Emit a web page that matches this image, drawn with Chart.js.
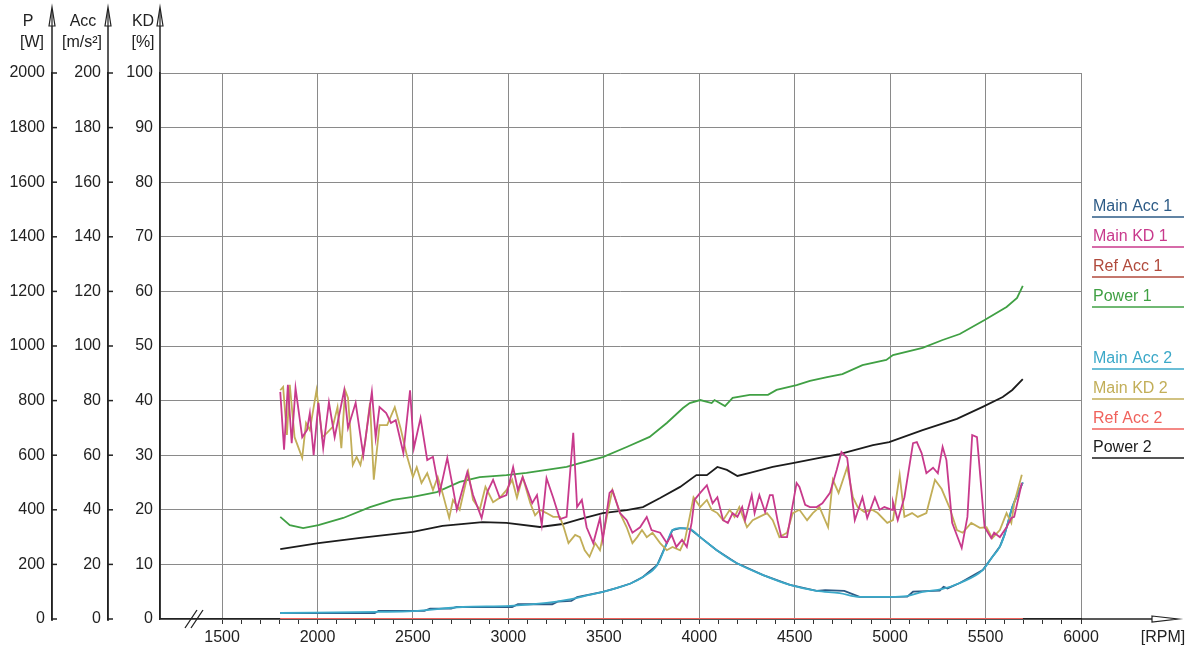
<!DOCTYPE html>
<html lang="en">
<head>
<meta charset="UTF-8">
<title>RPM sweep</title>
<script src="https://cdn.jsdelivr.net/npm/chart.js"></script>
<style>
  body { margin: 0; background: #fff; }
  canvas { display: block; }
</style>
</head>
<body>
<canvas id="grafico" width="1195" height="648"></canvas>
<script>
// names shown in the legend, in order
const seriesNames = ['Main Acc 1', 'Main KD 1', 'Ref Acc 1', 'Power 1',
                     'Main Acc 2', 'Main KD 2', 'Ref Acc 2', 'Power 2'];
const rpmLabels = [1500, 2000, 2500, 3000, 3500, 4000, 4500, 5000, 5500, 6000];

// Main KD 1 [%]
const kd1Rpm = [1805,1825,1845,1865,1885,1920,1945,1960,1980,2005,
                2030,2060,2090,2140,2160,2200,2240,2285,2305,2325,
                2360,2385,2410,2450,2485,2505,2540,2575,2605,2640,
                2680,2705,2730,2785,2815,2860,2890,2920,2955,2990,
                3025,3050,3075,3125,3150,3175,3200,3235,3270,3305,
                3340,3360,3385,3410,3445,3480,3495,3530,3545,3585,
                3620,3650,3690,3725,3750,3795,3830,3855,3880,3910,
                3935,3960,3975,4005,4040,4070,4095,4125,4150,4175,
                4200,4225,4240,4275,4290,4315,4345,4370,4385,4410,
                4430,4460,4485,4510,4525,4555,4580,4615,4645,4685,
                4720,4745,4775,4815,4855,4880,4920,4945,4970,5010,
                5015,5040,5075,5120,5140,5165,5190,5225,5250,5275,
                5295,5325,5375,5405,5430,5455,5495,5530,5545,5575,
                5610,5635,5650,5690];
const kd1 = [41.6,31.0,42.9,32.2,42.3,33.3,34.6,37.7,30.0,39.6,
             31.3,39.7,33.3,41.9,35.0,39.6,30.0,41.6,33.2,38.8,
             37.7,35.9,36.4,30.4,41.9,31.3,36.8,29.1,29.7,23.1,
             29.5,24.9,20.0,26.9,22.7,18.5,23.3,25.5,22.2,22.7,
             27.8,23.6,26.0,21.2,22.7,17.2,25.8,22.2,18.3,18.7,
             34.1,20.5,21.8,16.8,13.9,18.5,14.5,23.1,23.6,19.4,
             18.1,15.8,16.8,18.7,16.3,15.8,13.9,15.4,13.2,14.5,
             13.2,17.6,21.8,23.1,24.5,21.2,22.3,18.1,17.6,19.4,
             18.7,20.5,18.1,22.7,19.4,22.7,19.6,22.7,22.7,18.1,
             15.0,15.0,20.0,24.9,24.2,20.9,20.5,20.5,21.2,23.1,
             27.3,30.6,29.5,18.1,22.3,18.5,22.3,20.0,20.5,20.0,
             21.4,18.1,22.3,32.2,32.4,30.4,26.7,27.7,26.7,31.5,
             29.1,17.6,13.0,18.7,33.7,33.3,16.8,14.8,15.8,15.0,
             16.8,18.5,18.7,24.9];

// Main KD 2 [%]
const kd2Rpm = [1805,1820,1840,1855,1880,1920,1940,1960,1995,2025,
                2050,2080,2105,2125,2145,2160,2185,2205,2225,2250,
                2275,2295,2325,2365,2405,2435,2470,2500,2520,2545,
                2575,2605,2630,2655,2690,2710,2745,2790,2815,2850,
                2880,2920,2955,2990,3020,3045,3075,3115,3140,3165,
                3200,3235,3270,3290,3315,3350,3375,3400,3425,3455,
                3480,3505,3530,3545,3585,3620,3650,3675,3700,3725,
                3755,3795,3830,3860,3900,3925,3950,3970,4005,4040,
                4065,4095,4125,4160,4185,4210,4250,4280,4315,4355,
                4385,4420,4460,4490,4525,4565,4595,4630,4675,4700,
                4730,4775,4805,4830,4865,4905,4935,4985,5015,5050,
                5075,5115,5145,5190,5235,5270,5310,5350,5380,5425,
                5470,5505,5535,5575,5610,5635,5650,5690];
const kd2 = [41.9,42.5,33.7,42.9,33.3,29.5,35.9,34.6,41.9,33.3,
             34.1,35.2,38.8,31.3,41.9,40.5,28.2,29.7,28.2,32.4,
             39.6,25.5,35.5,35.5,38.8,35.0,29.7,26.0,27.8,24.9,
             26.7,23.6,26.0,23.1,18.5,21.8,20.0,26.9,21.8,20.0,
             24.2,21.4,22.2,23.6,25.5,22.2,26.0,21.2,19.0,20.0,
             19.4,18.7,18.7,16.8,13.9,15.4,15.0,12.6,11.4,13.9,
             12.6,16.8,21.2,23.6,19.4,16.8,13.9,15.0,16.3,15.0,
             15.8,13.9,12.6,13.2,12.6,14.5,18.7,22.3,20.5,21.8,
             20.0,19.4,18.1,20.0,18.7,20.5,16.8,18.1,18.7,19.4,
             18.1,15.0,15.8,19.4,20.0,18.1,19.4,20.5,16.8,25.5,
             23.1,27.8,22.3,20.5,19.6,20.0,19.4,17.6,18.1,26.4,
             18.7,19.4,18.7,19.4,25.5,23.8,20.5,16.3,15.8,17.6,
             16.7,16.8,14.8,16.3,19.4,17.6,21.2,26.4];

// Power 1 [W]
const p1Rpm = [1805,1855,1925,2005,2135,2275,2395,2500,2625,2745,
               2850,2990,3095,3200,3305,3375,3495,3620,3740,3830,
               3915,3950,4005,4065,4080,4135,4175,4265,4360,4405,
               4510,4580,4670,4750,4855,4980,5015,5170,5275,5365,
               5495,5610,5665,5695];
const p1 = [374,344,333,344,370,410,436,447,465,502,
            520,527,535,546,557,571,593,630,667,718,
            773,791,802,791,802,780,810,821,821,839,
            857,872,886,897,930,949,967,993,1022,1044,
            1095,1143,1176,1220];

// Power 2 [W]
const p2Rpm = [1805,2005,2225,2500,2655,2865,2990,3165,3285,3375,
               3495,3620,3705,3795,3900,3985,4040,4095,4145,4200,
               4265,4385,4490,4630,4735,4910,4995,5170,5350,5485,
               5590,5640,5695];
const p2 = [256,278,297,319,341,355,352,337,348,366,
            388,399,410,443,484,527,527,557,546,524,
            535,557,571,590,604,637,648,692,733,777,
            813,839,879];

// Main Acc 2 [m/s²]
const acc2Rpm = [1805,2325,2500,2760,3010,3200,3305,3425,3495,3570,
                 3640,3705,3780,3830,3860,3900,3950,4005,4090,4195,
                 4335,4475,4615,4735,4840,5000,5085,5170,5275,5365,
                 5485,5535,5575,5600,5640,5695];
const acc2 = [2.2,2.6,2.9,4.4,4.8,5.9,7.0,8.8,9.9,11.4,
              13.0,15.4,19.8,27.8,32.6,33.3,33.0,30.0,25.3,20.5,
              16.1,12.5,10.3,9.5,8.1,8.1,8.4,9.9,11.0,13.2,
              17.9,22.7,26.5,31.0,41.0,50.0];

// Main Acc 1 [m/s²]
const acc1Rpm = [1805,2300,2320,2560,2590,2700,2730,3020,3050,3230,
                 3260,3330,3360,3495,3570,3640,3705,3780,3830,3860,
                 3900,3950,4005,4090,4195,4335,4475,4615,4660,4760,
                 4840,5000,5090,5120,5260,5280,5300,5365,5485,5535,
                 5575,5600,5640,5695];
const acc1 = [2.2,2.2,3.0,3.0,3.8,3.8,4.4,4.4,5.4,5.4,
              6.4,6.6,8.0,9.9,11.4,13.0,15.4,19.8,27.8,32.6,
              33.3,33.0,30.0,25.3,20.5,16.1,12.5,10.3,10.6,10.3,
              8.1,8.1,8.2,10.0,10.4,11.8,11.2,13.2,17.9,22.7,
              26.5,31.0,41.0,50.0];

// Ref Acc 1 / 2 [m/s²]
const refRpm = [1805, 5695];
const refAcc = [0, 0];

const cores = ['#2d5b86', '#c83a8c', '#b04a3c', '#40a044',
               '#3ba8c8', '#c2ae58', '#f0625c', '#1c1c1c'];
const fonte = 'Liberation Sans, Arial, sans-serif';

function pontos(xs, ys) {
    return xs.map((x, i) => ({ x: x, y: ys[i] }));
}

function serie(i, xs, ys, eixo, ordem, suave) {
    return {
        label: seriesNames[i],
        data: pontos(xs, ys),
        yAxisID: eixo,
        borderColor: cores[i],
        borderWidth: 1.8,
        pointRadius: 0,
        tension: suave ? 0.3 : 0,
        cubicInterpolationMode: suave ? 'monotone' : 'default',
        order: ordem
    };
}

const datasets = [
    serie(0, acc1Rpm, acc1, 'acc', 5, false),
    serie(1, kd1Rpm, kd1, 'kd', 3, false),
    serie(2, refRpm, refAcc, 'acc', 1, false),
    serie(3, p1Rpm, p1, 'p', 6, false),
    serie(4, acc2Rpm, acc2, 'acc', 4, true),
    serie(5, kd2Rpm, kd2, 'kd', 3.5, false),
    serie(6, refRpm, refAcc, 'acc', 0, false),
    serie(7, p2Rpm, p2, 'p', 6, false)
];

// arrows, axis extensions, titles and legend
const extras = {
    id: 'extras',
    afterDraw(chart) {
        const ctx = chart.ctx;
        const area = chart.chartArea;
        ctx.save();
        ctx.strokeStyle = '#222';
        ctx.fillStyle = '#222';
        ctx.lineWidth = 1.5;

        ['p', 'acc', 'kd'].forEach(id => {
            const s = chart.scales[id];
            const x = s.right;
            ctx.beginPath();
            ctx.moveTo(x, id === 'kd' ? area.bottom : area.bottom + 2);
            ctx.lineTo(x, 12);
            ctx.stroke();
            // arrow head
            ctx.beginPath();
            ctx.moveTo(x, 7);
            ctx.lineTo(x - 3, 26);
            ctx.lineTo(x + 3, 26);
            ctx.closePath();
            ctx.lineWidth = 1.2;
            ctx.fillStyle = '#fff';
            ctx.fill();
            ctx.stroke();
            ctx.beginPath();
            ctx.moveTo(x, 10);
            ctx.lineTo(x, 26);
            ctx.stroke();
            ctx.lineWidth = 1.5;
            if (id !== 'kd') {
                s.ticks.forEach(t => {
                    const y = s.getPixelForValue(t.value);
                    ctx.beginPath();
                    ctx.moveTo(x, y);
                    ctx.lineTo(x + 5, y);
                    ctx.stroke();
                });
            }
        });

        // x axis beyond 6000 with arrow
        const yb = chart.scales.x.top;
        ctx.beginPath();
        ctx.moveTo(area.right, yb);
        ctx.lineTo(1152, yb);
        ctx.stroke();
        ctx.beginPath();
        ctx.moveTo(1152, yb - 3);
        ctx.lineTo(1178, yb);
        ctx.lineTo(1152, yb + 3);
        ctx.closePath();
        ctx.lineWidth = 1.2;
        ctx.stroke();

        // axis break
        ctx.lineWidth = 1.3;
        ctx.beginPath();
        ctx.moveTo(185, 628); ctx.lineTo(197, 610);
        ctx.moveTo(191, 628); ctx.lineTo(203, 610);
        ctx.stroke();

        // titles
        ctx.fillStyle = '#222';
        ctx.font = '16px ' + fonte;
        ctx.textAlign = 'center';
        ctx.textBaseline = 'middle';
        ctx.fillText('P', 28, 22);
        ctx.fillText('[W]', 32, 43);
        ctx.fillText('Acc', 83, 22);
        ctx.fillText('[m/s²]', 82, 43);
        ctx.fillText('KD', 143, 22);
        ctx.fillText('[%]', 143, 43);
        ctx.fillText('[RPM]', 1163, 638);

        // legend
        const yLeg = [207, 237, 267, 297, 359, 389, 419, 448];
        ctx.textAlign = 'left';
        chart.data.datasets.forEach((d, i) => {
            ctx.fillStyle = d.borderColor;
            ctx.strokeStyle = d.borderColor;
            ctx.fillText(d.label, 1093, yLeg[i]);
            ctx.lineWidth = 1.6;
            ctx.beginPath();
            ctx.moveTo(1092, yLeg[i] + 10);
            ctx.lineTo(1184, yLeg[i] + 10);
            ctx.stroke();
        });
        ctx.restore();
    }
};

function eixoY(max, passo, peso, largura, grade) {
    return {
        type: 'linear',
        position: 'left',
        min: 0,
        max: max,
        weight: peso,
        ticks: {
            stepSize: passo,
            padding: 7,
            color: '#222',
            font: { family: fonte, size: 16 },
            callback: v => v
        },
        grid: {
            drawOnChartArea: grade,
            drawTicks: false,
            color: '#8a8a8a',
            lineWidth: 1
        },
        border: { display: true, color: '#222', width: 1.5 },
        afterFit: s => { s.width = largura; }
    };
}

new Chart(document.getElementById('grafico'), {
    type: 'line',
    data: { datasets: datasets },
    plugins: [extras],
    options: {
        responsive: false,
        animation: false,
        devicePixelRatio: 1,
        layout: { padding: { top: 73, right: 114, left: 0, bottom: 0 } },
        plugins: {
            legend: { display: false },
            tooltip: { enabled: false }
        },
        scales: {
            x: {
                type: 'linear',
                min: 1175,
                max: 6000,
                ticks: {
                    stepSize: 100,
                    includeBounds: false,
                    autoSkip: false,
                    maxRotation: 0,
                    padding: 4,
                    color: '#222',
                    font: { family: fonte, size: 16 },
                    callback: v => rpmLabels.includes(v) ? v : ''
                },
                grid: {
                    color: c => (c.tick && rpmLabels.includes(c.tick.value)) ? '#8a8a8a' : 'rgba(0,0,0,0)',
                    tickColor: c => (c.tick && c.tick.value >= 1500) ? '#333' : 'rgba(0,0,0,0)',
                    tickLength: 5,
                    lineWidth: 1
                },
                border: { display: true, color: '#222', width: 1.5 },
                afterFit: s => { s.height = 29; }
            },
            kd: eixoY(100, 10, 0, 52, true),
            acc: eixoY(200, 20, 1, 56, false),
            p: eixoY(2000, 200, 2, 52, false)
        }
    }
});
</script>
</body>
</html>
